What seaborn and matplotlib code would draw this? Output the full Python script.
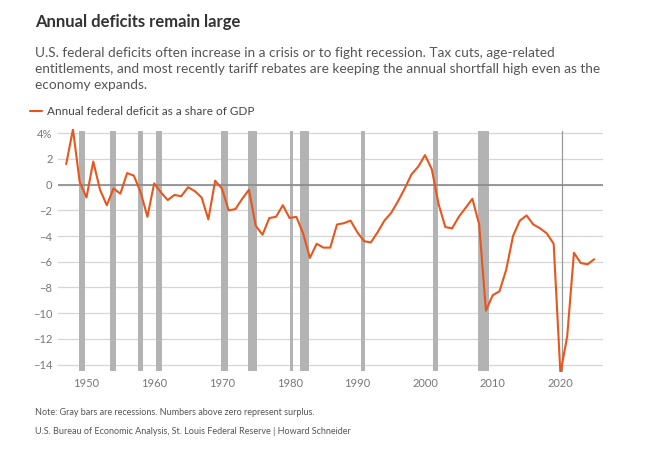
import numpy as np
import pandas as pd
import matplotlib
matplotlib.use("Agg")
import matplotlib.pyplot as plt
import seaborn as sns

years = list(range(1947, 2026))
deficit = [1.6, 4.3, 0.2, -1.0, 1.8, -0.4, -1.6, -0.3, -0.7, 0.9,
           0.7, -0.6, -2.5, 0.1, -0.6, -1.2, -0.8, -0.9, -0.2, -0.5,
           -1.0, -2.7, 0.3, -0.3, -2.0, -1.9, -1.1, -0.4, -3.2, -3.9,
           -2.6, -2.5, -1.6, -2.6, -2.5, -3.8, -5.7, -4.6, -4.9, -4.9,
           -3.1, -3.0, -2.8, -3.7, -4.4, -4.5, -3.7, -2.8, -2.2, -1.3,
           -0.3, 0.8, 1.4, 2.3, 1.2, -1.5, -3.3, -3.4, -2.5, -1.8,
           -1.1, -3.1, -9.8, -8.6, -8.3, -6.6, -4.0, -2.8, -2.4, -3.1,
           -3.4, -3.8, -4.6, -14.7, -11.8, -5.3, -6.1, -6.2, -5.8]
rec_start = [1948.9, 1953.5, 1957.6, 1960.3, 1969.9, 1973.9, 1980.0, 1981.5, 1990.6, 2001.2, 2007.9]
rec_end = [1949.8, 1954.3, 1958.3, 1961.1, 1970.9, 1975.2, 1980.5, 1982.9, 1991.2, 2001.9, 2009.5]
covid_rec = 2020.2

df = pd.DataFrame({"year": years, "deficit": deficit})

sns.set_style("white")
plt.rcParams["font.family"] = ["Lato", "DejaVu Sans"]

fig = plt.figure(figsize=(6.45, 4.54), dpi=100)
ax = fig.add_axes([0.09, 0.18, 0.845, 0.535])

for y in range(-14, 5, 2):
    ax.axhline(y, color="#d6d6d6", lw=0.9, zorder=0)
for s, e in zip(rec_start, rec_end):
    ax.fill_between([s, e], -14.5, 4.2, color="#b3b3b3", lw=0, zorder=1)
ax.plot([covid_rec, covid_rec], [-14.5, 4.2], color="#999999", lw=0.9, zorder=1)
ax.axhline(0, color="#8a8a8a", lw=1.2, zorder=2)

sns.lineplot(data=df, x="year", y="deficit", ax=ax, color="#e8561c", lw=1.5,
             zorder=3, label="Annual federal deficit as a share of GDP")

ax.set_xlim(1945.8, 2026.3)
ax.set_ylim(-14.6, 4.3)
ax.set_yticks(range(-14, 5, 2))
ax.set_yticklabels([f"{v}%" if v == 4 else str(v).replace("-", "\u2212") for v in range(-14, 5, 2)])
ax.set_xticks(range(1950, 2021, 10))
ax.tick_params(colors="#777777", labelsize=8, length=0, pad=4)
ax.set_xlabel("")
ax.set_ylabel("")
sns.despine(ax=ax, left=True, bottom=True)

leg = ax.legend(loc="lower left", bbox_to_anchor=(-0.06, 1.03), frameon=False,
                fontsize=8.5, handlelength=1.0, handletextpad=0.4, borderaxespad=0)
for t in leg.get_texts():
    t.set_color("#444444")

fig.text(0.054, 0.94, "Annual deficits remain large", fontsize=12, fontweight="bold", color="#333333")
fig.text(0.054, 0.805, "U.S. federal deficits often increase in a crisis or to fight recession. Tax cuts, age-related\n"
         "entitlements, and most recently tariff rebates are keeping the annual shortfall high even as the\n"
         "economy expands.", fontsize=9.8, color="#555555", linespacing=1.4)
fig.text(0.054, 0.085, "Note: Gray bars are recessions. Numbers above zero represent surplus.", fontsize=6.5, color="#555555")
fig.text(0.054, 0.045, "U.S. Bureau of Economic Analysis, St. Louis Federal Reserve | Howard Schneider", fontsize=6.5, color="#555555")

fig.savefig("out.png", dpi=100)
